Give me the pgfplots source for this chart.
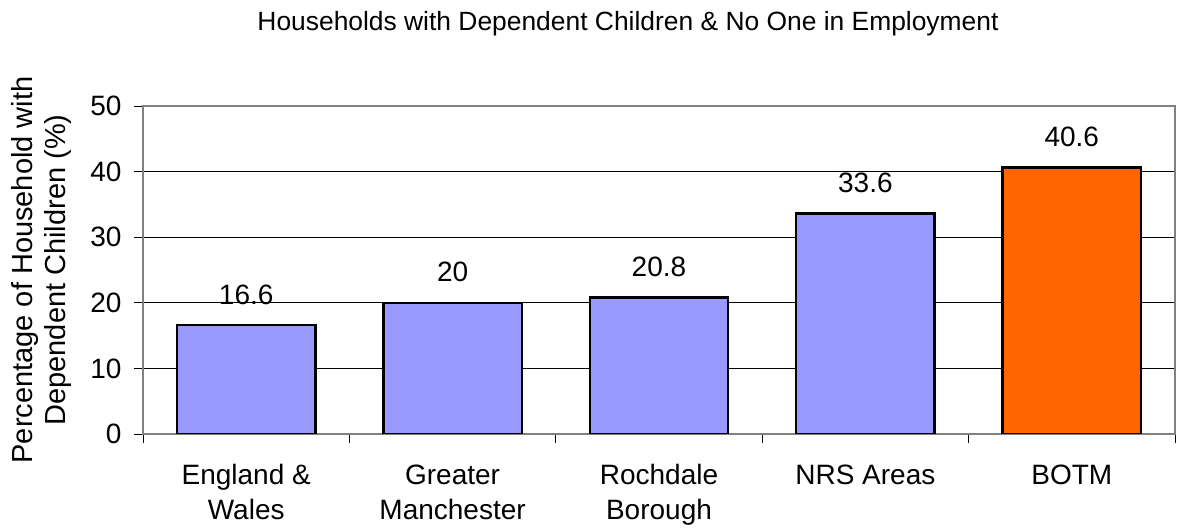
\documentclass[border=0pt]{standalone}
\usepackage{pgfplots}
\pgfplotsset{compat=1.18}
\usepackage{fontspec}
\setmainfont{Liberation Sans}
\definecolor{barblue}{RGB}{153,153,255}
\definecolor{barorange}{RGB}{255,102,0}
\definecolor{framegray}{RGB}{128,128,128}
\begin{document}
\begin{tikzpicture}
\begin{axis}[
  at={(143bp,95bp)}, anchor=south west,
  scale only axis, width=1032bp, height=328bp,
  xmin=-0.5, xmax=4.5, ymin=0, ymax=50,
  /pgf/number format/assume math mode=true,
  ytick={0,10,...,50},
  xtick={0,...,4},
  xticklabels={England \&\\Wales, Greater\\Manchester, Rochdale\\Borough, NRS Areas, BOTM},
  minor xtick={-0.5,0.5,...,4.5},
  major x tick style={draw=none},
  tick align=outside,
  xtick pos=bottom, ytick pos=left,
  major tick length=9bp, minor tick length=9bp,
  tick style={black, line width=0.8bp},
  ymajorgrids, grid style={black, line width=0.9bp},
  axis line style={framegray, line width=1.8bp},
  ticklabel style={font=\fontsize{28bp}{35bp}\selectfont},
  xticklabel style={align=center, text depth=0pt, yshift=-18bp},
  yticklabel style={xshift=-9bp},
  ybar, bar shift=0pt, bar width=0.67,
  nodes near coords,
  every node near coord/.append style={font=\fontsize{28bp}{33bp}\selectfont, anchor=base, yshift=21bp, black},
  point meta=explicit symbolic,
]
\addplot[draw=black, line width=2.4bp, fill=barblue] coordinates {(0,16.6) [16.6] (1,20) [20] (2,20.8) [20.8] (3,33.6) [33.6]};
\addplot[draw=black, line width=2.4bp, fill=barorange] coordinates {(4,40.6) [40.6]};
\end{axis}
\node[anchor=base, font=\fontsize{26.4bp}{30bp}\selectfont] at (628bp,498bp) {Households with Dependent Children \& No One in Employment};
\node[rotate=90, align=center, font=\fontsize{29bp}{33bp}\selectfont] at (42bp,259bp) {Percentage of Household with\\Dependent Children (\%)};
\pgfresetboundingbox
\path[use as bounding box] (0,0) rectangle (1179bp,529bp);
\end{tikzpicture}
\end{document}
